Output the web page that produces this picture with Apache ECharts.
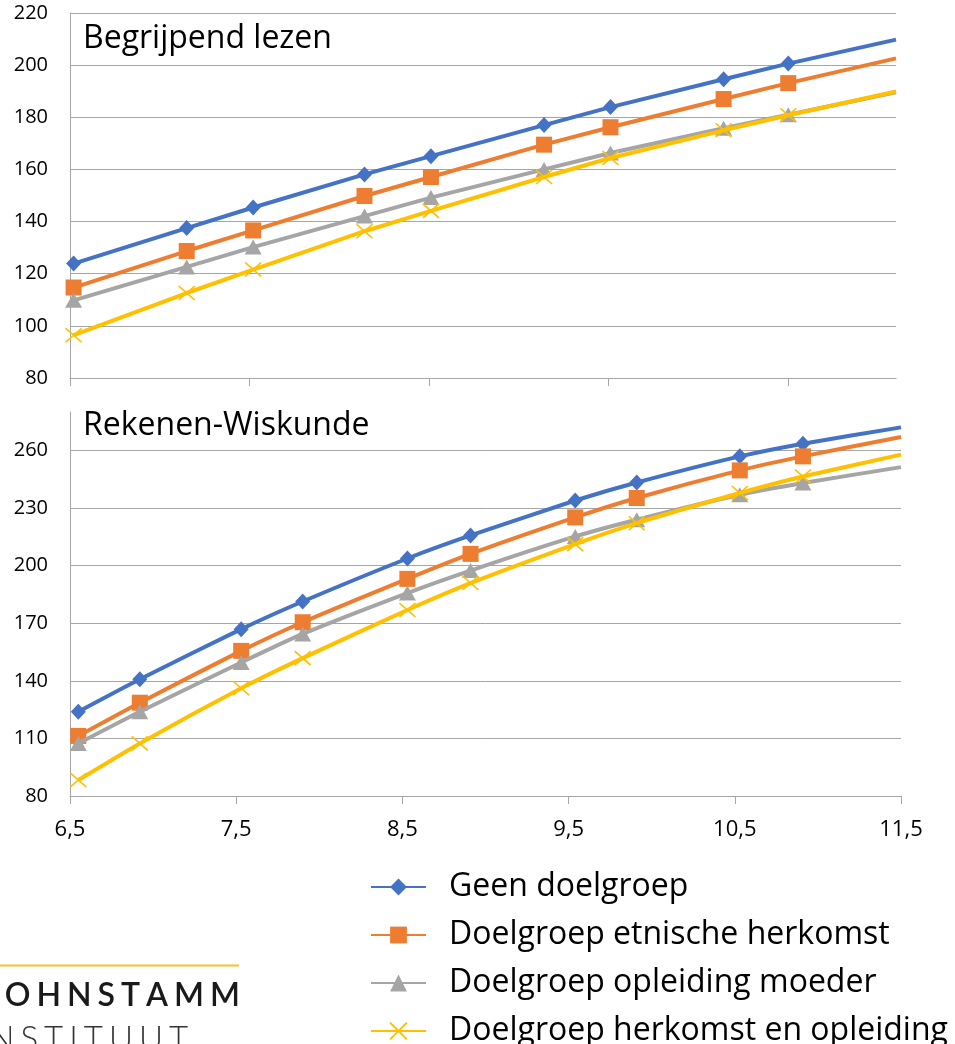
<!DOCTYPE html>
<html>
<head>
<meta charset="utf-8">
<script src="https://cdn.jsdelivr.net/npm/echarts@6/dist/echarts.min.js"></script>
<style>
html,body{margin:0;padding:0;background:#fff;}
#chart{width:955px;height:1044px;}
</style>
</head>
<body>
<div id="chart"></div>
<script>
// ---------- data ----------
const seriesNames = ['Geen doelgroep', 'Doelgroep etnische herkomst', 'Doelgroep opleiding moeder', 'Doelgroep herkomst en opleiding'];
const panelTitles = ['Begrijpend lezen', 'Rekenen-Wiskunde'];

// Begrijpend lezen (last value = where the curve leaves the plot)
const readingAges   = [6.52, 7.15, 7.52, 8.14, 8.51, 9.14, 9.51, 10.14, 10.5, 11.1];
const readGeen      = [123.9, 137.5, 145.4, 158.1, 165.1, 177.0, 183.9, 194.6, 200.6, 209.8];
const readEtnisch   = [114.7, 128.7, 136.6, 149.8, 157.1, 169.5, 176.2, 187.0, 193.1, 202.6];
const readMoeder    = [109.8, 122.6, 130.2, 142.1, 149.2, 160.0, 166.3, 175.8, 181.0, 189.6];
const readBeide     = [96.4, 112.6, 121.6, 136.3, 144.1, 157.1, 164.4, 175.0, 180.8, 189.9];

// Rekenen-Wiskunde
const mathAges      = [6.55, 6.92, 7.53, 7.9, 8.53, 8.91, 9.54, 9.91, 10.53, 10.91, 11.5];
const mathGeen      = [123.9, 140.8, 166.9, 181.3, 203.7, 215.7, 233.9, 243.3, 256.9, 263.5, 272.0];
const mathEtnisch   = [111.3, 128.6, 155.6, 170.5, 193.1, 206.1, 225.1, 235.2, 249.6, 256.9, 267.0];
const mathMoeder    = [107.4, 123.9, 149.5, 164.4, 185.7, 197.4, 215.2, 223.9, 236.9, 243.0, 251.3];
const mathBeide     = [88.3, 107.4, 136.1, 151.8, 176.9, 190.9, 211.2, 222.1, 237.8, 246.4, 257.8];

// ticks
const readXTicks = [6.5, 7.5, 8.5, 9.5, 10.5];
const mathXTicks = [6.5, 7.5, 8.5, 9.5, 10.5, 11.5];
const readYTicks = [80, 100, 120, 140, 160, 180, 200, 220];
const mathYTicks = [80, 110, 140, 170, 200, 230, 260];

// ---------- styling ----------
const colors = ['#4472C4', '#ED7D31', '#A5A5A5', '#FFC000'];
const symbols = ['diamond', 'rect', 'triangle', 'path://M0,0L10,10M10,0L0,10'];
const symbolSizes = [[15, 16], 16, [17, 15], [16, 14]];
const FONT = 'Open Sans';
const gridColor = '#a6a6a6';

function buildSeries(ages, valuesList, axisIdx) {
  return valuesList.map((vals, i) => ({
    name: seriesNames[i],
    type: 'line',
    xAxisIndex: axisIdx,
    yAxisIndex: axisIdx,
    data: vals.map((v, k) => k === ages.length - 1
      ? { value: [ages[k], v], symbol: 'none' }
      : [ages[k], v]),
    symbol: symbols[i],
    symbolSize: symbolSizes[i],
    showAllSymbol: true,
    smooth: axisIdx === 1 ? 0.2 : false,
    lineStyle: { color: colors[i], width: 4 },
    itemStyle: i === 3
      ? { color: colors[i], borderColor: colors[i], borderWidth: 1.6 }
      : { color: colors[i] },
    emphasis: { disabled: true },
    z: 2 + i
  }));
}

const yLabelStyle = { color: '#000', fontFamily: FONT, fontSize: 20 };
const xLabelStyle = { color: '#000', fontFamily: FONT, fontSize: 22 };
const commaFmt = v => String(v).replace('.', ',');

const option = {
  animation: false,
  backgroundColor: '#fff',
  title: [
    { text: panelTitles[0], left: 83, top: 23, padding: 0,
      textStyle: { fontFamily: FONT, fontSize: 32, fontWeight: 'normal', color: '#000' } },
    { text: panelTitles[1], left: 83, top: 410, padding: 0,
      textStyle: { fontFamily: FONT, fontSize: 32, fontWeight: 'normal', color: '#000' } }
  ],
  grid: [
    { left: 70, top: 13, width: 826, height: 365, containLabel: false },
    { left: 70, top: 412, width: 831, height: 384, containLabel: false }
  ],
  xAxis: [
    { type: 'value', gridIndex: 0, min: 6.5, max: 11.1,
      axisLine: { show: true, lineStyle: { color: gridColor, width: 1 } },
      axisTick: { show: true, length: 8, lineStyle: { color: gridColor }, customValues: readXTicks },
      axisLabel: { show: false },
      splitLine: { show: false } },
    { type: 'value', gridIndex: 1, min: 6.5, max: 11.5,
      axisLine: { show: true, lineStyle: { color: gridColor, width: 1 } },
      axisTick: { show: true, length: 8, lineStyle: { color: gridColor }, customValues: mathXTicks },
      axisLabel: Object.assign({ margin: 23, customValues: mathXTicks, formatter: commaFmt }, xLabelStyle),
      splitLine: { show: false } }
  ],
  yAxis: [
    { type: 'value', gridIndex: 0, min: 80, max: 220, interval: 20,
      axisLine: { show: true, lineStyle: { color: gridColor, width: 1 } },
      axisTick: { show: false, customValues: readYTicks },
      axisLabel: Object.assign({ margin: 22, customValues: readYTicks }, yLabelStyle),
      splitLine: { show: true, lineStyle: { color: gridColor, width: 1 } } },
    { type: 'value', gridIndex: 1, min: 80, max: 280,
      axisLine: { show: true, lineStyle: { color: gridColor, width: 1 } },
      axisTick: { show: false, customValues: mathYTicks },
      axisLabel: Object.assign({ margin: 22, customValues: mathYTicks }, yLabelStyle),
      splitLine: { show: true, lineStyle: { color: gridColor, width: 1 } } }
  ],
  legend: {
    data: seriesNames,
    orient: 'vertical',
    left: 370,
    top: 871,
    height: 300,
    padding: 0,
    itemWidth: 55,
    itemHeight: 21,
    itemGap: 16,
    selectedMode: false,
    textStyle: { fontFamily: FONT, fontSize: 32, color: '#000', lineHeight: 32, padding: [0, 0, 0, 18] }
  },
  series: [].concat(
    buildSeries(readingAges, [readGeen, readEtnisch, readMoeder, readBeide], 0),
    buildSeries(mathAges, [mathGeen, mathEtnisch, mathMoeder, mathBeide], 1)
  )
};

// ---------- logo (letter-spaced text) ----------
function spacedLetters(word, font, spacing, rightX, y, color) {
  const ctx = document.createElement('canvas').getContext('2d');
  ctx.font = font;
  const widths = word.split('').map(c => ctx.measureText(c).width);
  const total = widths.reduce((a, b) => a + b, 0) + spacing * (word.length - 1);
  let x = rightX - total;
  const els = [];
  word.split('').forEach((c, i) => {
    els.push({ type: 'text', x: x, y: y, silent: true,
      style: { text: c, font: font, fill: color, textVerticalAlign: 'middle', verticalAlign: 'middle' } });
    x += widths[i] + spacing;
  });
  return els;
}
const logoTop = 'KOHNSTAMM';
const logoBottom = 'INSTITUUT';
option.graphic = [
  { type: 'line', silent: true, shape: { x1: 0, y1: 965.5, x2: 239, y2: 965.5 },
    style: { stroke: '#F6C324', lineWidth: 2 } }
].concat(
  spacedLetters(logoTop, '600 32px Lato', 6, 240, 996, '#1a1a1a'),
  spacedLetters(logoBottom, '300 33px Lato', 6, 188, 1039, '#333')
);

const chart = echarts.init(document.getElementById('chart'), null, { renderer: 'canvas' });
chart.setOption(option);
</script>
</body>
</html>
